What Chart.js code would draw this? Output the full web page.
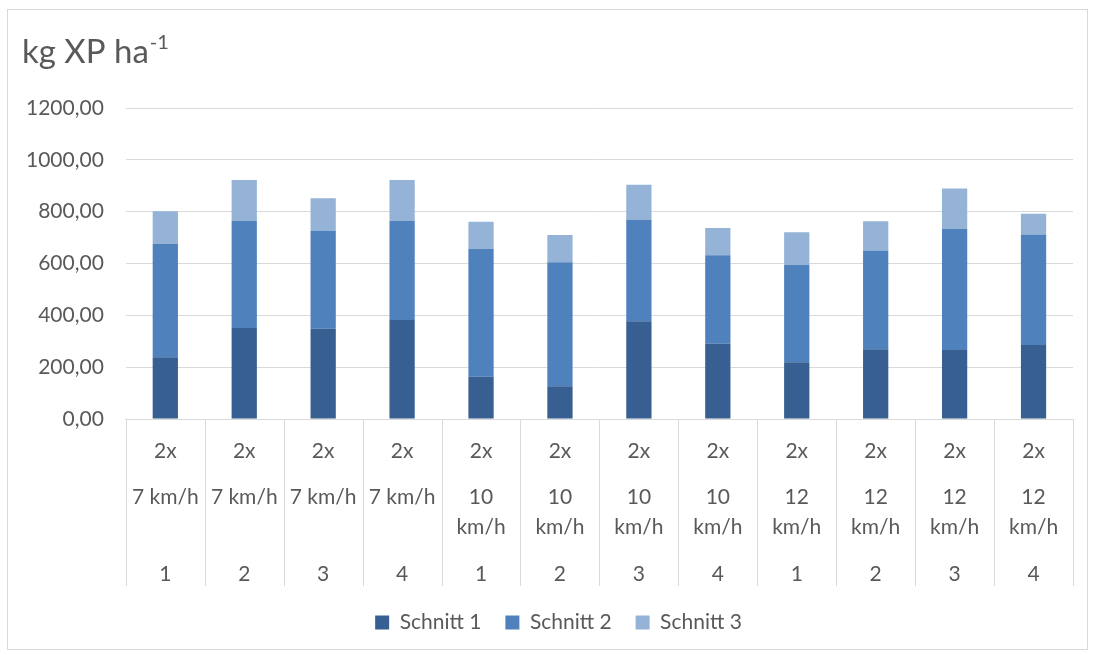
<!DOCTYPE html>
<html>
<head>
<meta charset="utf-8">
<script src="https://cdn.jsdelivr.net/npm/chart.js@4.4.1/dist/chart.umd.min.js"></script>
<style>
  html, body { margin: 0; padding: 0; background: #fff; }
</style>
</head>
<body>
<canvas id="chart" width="1095" height="655"></canvas>
<script>
// category rows (three-level x axis)
const passes = ['2x', '2x', '2x', '2x', '2x', '2x', '2x', '2x', '2x', '2x', '2x', '2x'];
const speeds = ['7 km/h', '7 km/h', '7 km/h', '7 km/h', '10 km/h', '10 km/h', '10 km/h', '10 km/h', '12 km/h', '12 km/h', '12 km/h', '12 km/h'];
const reps = ['1', '2', '3', '4', '1', '2', '3', '4', '1', '2', '3', '4'];

// series values (kg XP per ha)
const schnitt1 = [238, 351, 348, 382, 163, 126, 377, 290, 219, 269, 266, 286];
const schnitt2 = [438, 414, 377, 383, 494, 479, 391, 342, 376, 381, 467, 426];
const schnitt3 = [126, 157, 127, 157, 104, 105, 136, 105, 126, 113, 156, 80];

const seriesNames = ['Schnitt 1', 'Schnitt 2', 'Schnitt 3'];
const yTicks = [0, 200, 400, 600, 800, 1000, 1200];

const TEXT = '#595959';
const GRID = '#d9d9d9';
const FONT = 'Lato, "Open Sans", sans-serif';

const labels = passes.map((p, i) => `${p} ${speeds[i]} ${reps[i]}`);

// frame + title + multi-level category axis
const excelLook = {
  id: 'excelLook',
  afterLayout(chart) {
    // legend sits a bit right of the canvas centre in the original
    chart.legend.left += 40;
  },
  beforeDraw(chart) {
    const ctx = chart.ctx;
    ctx.save();
    ctx.strokeStyle = GRID;
    ctx.lineWidth = 1;
    ctx.strokeRect(7.5, 9.5, 1080, 640);
    ctx.restore();
  },
  afterDraw(chart) {
    const ctx = chart.ctx;
    const area = chart.chartArea;
    const x = chart.scales.x;
    ctx.save();

    // title with superscript
    ctx.fillStyle = TEXT;
    ctx.textBaseline = 'alphabetic';
    ctx.textAlign = 'left';
    ctx.font = `33px ${FONT}`;
    const base = 'kg XP ha';
    ctx.fillText(base, 22, 63);
    const w = ctx.measureText(base).width;
    ctx.font = `20px ${FONT}`;
    ctx.fillText('-1', 22 + w + 1, 49);

    // dividers
    const n = labels.length;
    const bottom = area.bottom;
    ctx.strokeStyle = GRID;
    ctx.lineWidth = 1;
    const edges = [area.left];
    for (let i = 1; i < n; i++) {
      edges.push((x.getPixelForValue(i - 1) + x.getPixelForValue(i)) / 2);
    }
    edges.push(area.right);
    edges.forEach(e => {
      const px = Math.round(e) + 0.5;
      ctx.beginPath();
      ctx.moveTo(px, bottom);
      ctx.lineTo(px, bottom + 167);
      ctx.stroke();
    });

    // text rows
    ctx.fillStyle = TEXT;
    ctx.textAlign = 'center';
    ctx.textBaseline = 'middle';
    ctx.font = `21px ${FONT}`;
    for (let i = 0; i < n; i++) {
      const cx = x.getPixelForValue(i);
      const colW = edges[i + 1] - edges[i];
      ctx.fillText(passes[i], cx, bottom + 32);
      if (ctx.measureText(speeds[i]).width > colW - 10) {
        const parts = speeds[i].split(' ');
        ctx.fillText(parts[0], cx, bottom + 78);
        ctx.fillText(parts.slice(1).join(' '), cx, bottom + 108);
      } else {
        ctx.fillText(speeds[i], cx, bottom + 78);
      }
      ctx.fillText(reps[i], cx, bottom + 155);
    }
    ctx.restore();
  }
};

const colors = ['#375f91', '#4f81bd', '#95b3d7'];
const data = [schnitt1, schnitt2, schnitt3];

new Chart(document.getElementById('chart'), {
  type: 'bar',
  data: {
    labels: labels,
    datasets: seriesNames.map((name, i) => ({
      label: name,
      data: data[i],
      backgroundColor: colors[i],
      borderWidth: 0,
      categoryPercentage: 1,
      barPercentage: 0.32
    }))
  },
  options: {
    responsive: false,
    animation: false,
    layout: { padding: { top: 108, right: 22, left: 4, bottom: 12 } },
    plugins: {
      legend: {
        position: 'bottom',
        labels: {
          color: TEXT,
          font: { family: FONT, size: 21 },
          boxWidth: 14,
          boxHeight: 14,
          padding: 24
        }
      },
      tooltip: { enabled: false }
    },
    scales: {
      x: {
        stacked: true,
        grid: { display: false },
        border: { display: true, color: GRID },
        ticks: { display: false },
        afterFit(scale) { scale.height = 169; }
      },
      y: {
        stacked: true,
        min: 0,
        max: 1200,
        afterBuildTicks(scale) { scale.ticks = yTicks.map(v => ({ value: v })); },
        grid: { color: GRID, drawTicks: false },
        border: { display: false },
        ticks: {
          color: TEXT,
          font: { family: FONT, size: 21 },
          padding: 22,
          callback: v => v.toFixed(2).replace('.', ',')
        }
      }
    }
  },
  plugins: [excelLook]
});
</script>
</body>
</html>
